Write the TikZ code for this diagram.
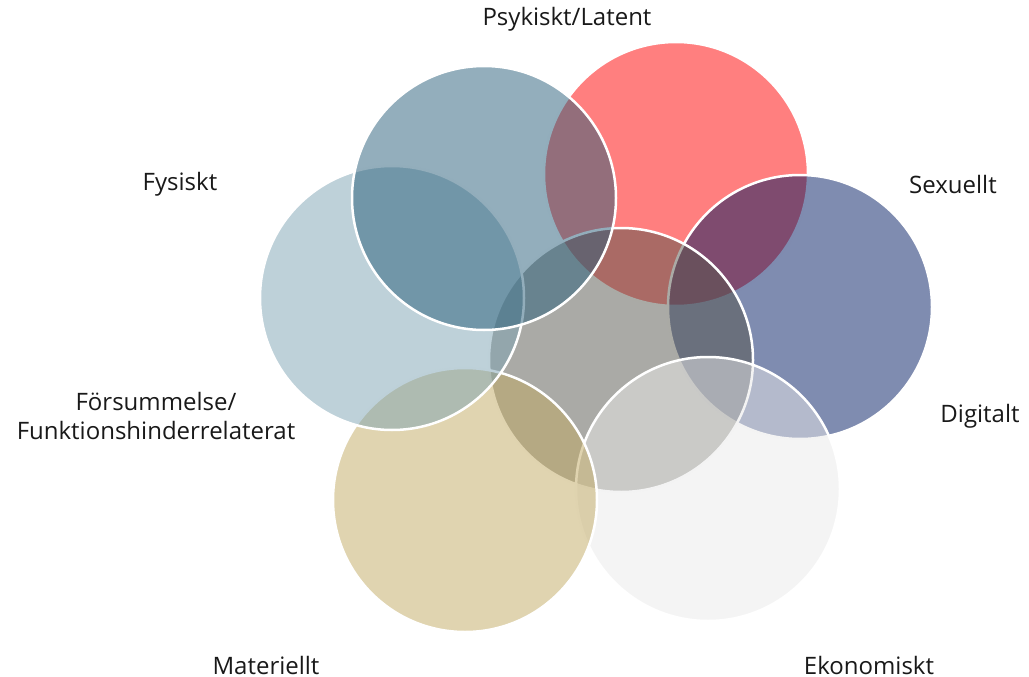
\documentclass[tikz,border=0pt]{standalone}
\usepackage{fontspec}
\setmainfont{Open Sans}
\definecolor{cRed}{HTML}{FF0000}
\definecolor{cBlue}{HTML}{001961}
\definecolor{cCen}{HTML}{56564D}
\definecolor{cEko}{HTML}{E9E9E9}
\definecolor{cMat}{HTML}{C1A961}
\definecolor{cFys}{HTML}{7DA3B3}
\definecolor{cTL}{HTML}{275D79}
\begin{document}
\begin{tikzpicture}[x=1pt,y=-1pt,
  venn/.style={circle, minimum size=264pt, inner sep=0pt, fill opacity=0.5, draw opacity=1, draw=white, line width=2.5pt},
  lbl/.style={font=\fontsize{24}{29.5}\selectfont, text=black!90, align=center, inner sep=0pt}]
\useasboundingbox (0,0) rectangle (1029,677);
\node[venn, fill=cRed]  (red) at (676,174) {};
\node[venn, fill=cBlue] (blue) at (800,307) {};
\node[venn, fill=cCen]  (cen) at (621,360) {};
\node[venn, fill=cEko]  (eko) at (708,489) {};
\node[venn, fill=cMat]  (mat) at (465,500) {};
\node[venn, fill=cFys]  (fys) at (392,298) {};
\node[venn, fill=cTL]   (tl)  at (484,198) {};
\node[lbl] (lpsy) at (567,19) {Psykiskt/Latent};
\node[lbl] (lfys) at (180,184) {Fysiskt};
\node[lbl] (lsex) at (953,184) {Sexuellt};
\node[lbl] (lfor) at (156,416) {Försummelse/\\Funktionshinderrelaterat};
\node[lbl] (ldig) at (980,416) {Digitalt};
\node[lbl] (lmat) at (266,665) {Materiellt};
\node[lbl] (leko) at (869,665) {Ekonomiskt};
\end{tikzpicture}
\end{document}
